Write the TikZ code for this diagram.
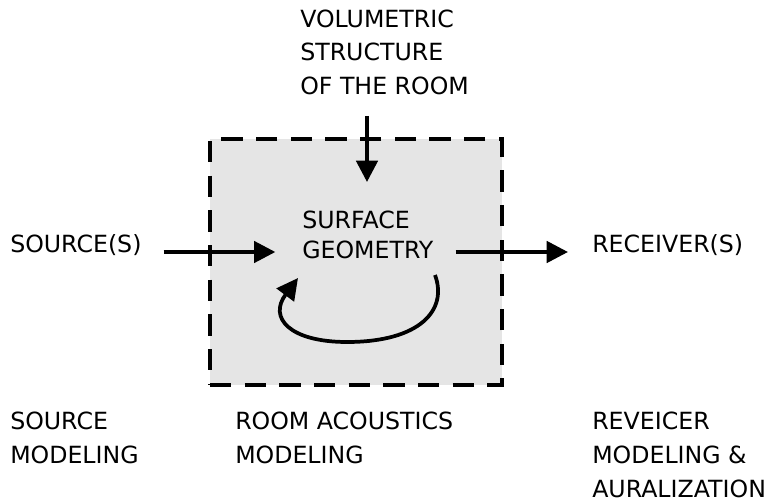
\documentclass[tikz,border=0pt]{standalone}
\usepackage{fontspec}
\setmainfont{DejaVu Sans}
\usetikzlibrary{arrows.meta}
\definecolor{RoomGray}{RGB}{229,229,229}
\tikzset{
  flow/.style={line width=2.8pt,-{Triangle[length=16pt,width=16pt]}},
  roombox/.style={draw,fill=RoomGray,line width=2.6pt,
    dash pattern=on 16pt off 10pt,minimum width=219pt,minimum height=184.5pt},
  caption/.style={inner sep=0pt,anchor=base west,align=left,
    font=\fontsize{17.75pt}{25.5pt}\selectfont}
}
\begin{document}
\begin{tikzpicture}[x=0.75pt,y=-0.75pt,>=Latex]
      \useasboundingbox (0,0) rectangle (768,503);
      \node[roombox] (room) at (356,262) {};
      % texts (base = last line)
      \node[caption] (vol) at (300,95) {VOLUMETRIC\\STRUCTURE\\OF THE ROOM};
      \node[caption] (src) at (10,252) {SOURCE(S)};
      \node[caption,font=\fontsize{17.75pt}{22.5pt}\selectfont] (geo) at (302,258)
        {SURFACE\\GEOMETRY};
      \node[caption] (rcv) at (592,252) {RECEIVER(S)};
      \node[caption] (srcmod) at (10,463) {SOURCE\\MODELING};
      \node[caption] (roommod) at (235,463) {ROOM ACOUSTICS\\MODELING};
      \node[caption] (rcvmod) at (592,497) {REVEICER\\MODELING \&\\AURALIZATION};
      % arrows
      \coordinate (volout) at (367,116);
      \coordinate (volin) at (367,182);
      \draw[flow] (volout) -- (volin);
      \draw[flow] ([xshift=16.5pt]src.base east) -- ([xshift=-20pt]geo.west |- src.base);
      \draw[flow] ([xshift=16.5pt]geo.east |- src.base) -- ([xshift=-18pt]rcv.base west);
      \coordinate (loopout) at (435,275);
      \coordinate (loopin) at (298,278);
      \draw[flow] (loopout) .. controls (448,310) and (420,342) .. (347,342)
        .. controls (290,342) and (268,318) .. (loopin);
    \end{tikzpicture}
\end{document}
